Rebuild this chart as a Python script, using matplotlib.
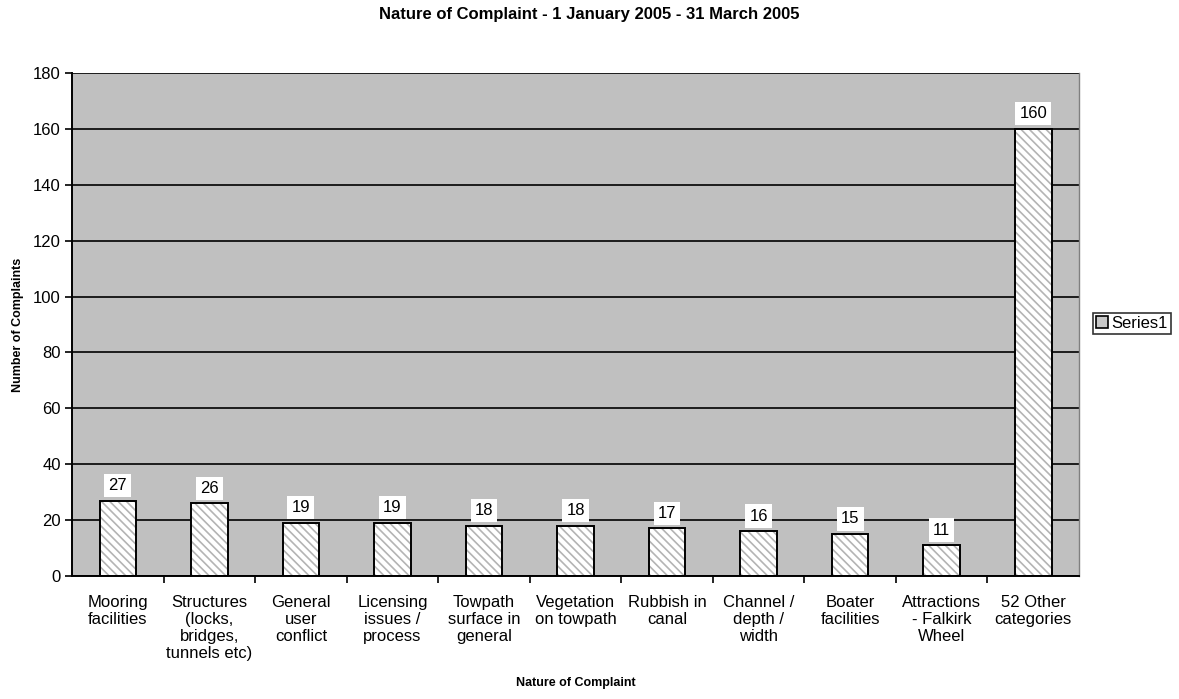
import matplotlib
matplotlib.use("Agg")
import matplotlib.pyplot as plt
from matplotlib.patches import Patch
from matplotlib.ticker import FixedLocator
import numpy as np

plt.rcParams['font.family'] = ['Liberation Sans', 'DejaVu Sans']

categories = ["Mooring\nfacilities", "Structures\n(locks,\nbridges,\ntunnels etc)", "General\nuser\nconflict",
              "Licensing\nissues /\nprocess", "Towpath\nsurface in\ngeneral", "Vegetation\non towpath",
              "Rubbish in\ncanal", "Channel /\ndepth /\nwidth", "Boater\nfacilities",
              "Attractions\n- Falkirk\nWheel", "52 Other\ncategories"]
values = [27, 26, 19, 19, 18, 18, 17, 16, 15, 11, 160]
series_name = "Series1"
title = "Nature of Complaint - 1 January 2005 - 31 March 2005"
xlabel = "Nature of Complaint"
ylabel = "Number of Complaints"

fig = plt.figure(figsize=(11.79, 6.99), dpi=100)
ax = fig.add_axes([0.0611, 0.176, 0.8541, 0.7196])
ax.set_facecolor('#C0C0C0')

x = np.arange(len(values))
ax.set_xlim(-0.5, len(values) - 0.5)
ax.set_ylim(0, 180)
ax.set_yticks(np.arange(0, 181, 20))
ax.yaxis.grid(True, color='black', linewidth=1.2)
ax.set_axisbelow(True)

w = 0.40
plt.rcParams['hatch.linewidth'] = 1.2
ax.bar(x, values, width=w, color='white', edgecolor='#B4B4B4', hatch='\\\\\\\\', linewidth=0, zorder=2)
ax.bar(x, values, width=w, color='none', edgecolor='black', linewidth=1.4, zorder=3)

for xi, v in zip(x, values):
    ax.annotate(str(v), (xi, v), xytext=(0, 5.5), textcoords='offset points', ha='center', va='bottom',
                fontsize=12, bbox=dict(facecolor='white', edgecolor='none', pad=3), zorder=4)

ax.set_xticks(x)
ax.set_xticklabels(categories, fontsize=12, linespacing=1.16, va='top')
ax.tick_params(axis='x', length=0, pad=14)
ax.xaxis.set_minor_locator(FixedLocator(np.arange(0.5, len(values) - 0.5, 1.0)))
ax.tick_params(axis='x', which='minor', length=5, width=1.2, direction='out')
ax.tick_params(axis='y', length=5, width=1.2, direction='out', labelsize=12, pad=3)

for s in ['left', 'bottom']:
    ax.spines[s].set_linewidth(1.4)
    ax.spines[s].set_color('black')
ax.spines['right'].set_color('#808080')
ax.spines['right'].set_linewidth(1.0)
ax.spines['top'].set_visible(False)

ax.set_xlabel(xlabel, fontsize=9, fontweight='bold')
ax.xaxis.set_label_coords(0.5, -0.213)
ax.xaxis.label.set_va('center')
ax.set_ylabel(ylabel, fontsize=9, fontweight='bold')
ax.yaxis.set_label_coords(-0.0535, 0.5)
ax.yaxis.label.set_va('center')
fig.suptitle(title, fontsize=12, fontweight='bold', y=0.979, va='center')

handle = Patch(facecolor='#C8C8C8', edgecolor='black', linewidth=1.2)
leg = fig.legend([handle], [series_name], loc='center left', bbox_to_anchor=(0.927, 0.537),
                 fontsize=12, frameon=True, fancybox=False, handlelength=0.7, handleheight=0.7,
                 handletextpad=0.2, borderpad=0.2, borderaxespad=0)
leg.get_frame().set_edgecolor('black')
leg.get_frame().set_linewidth(1.2)

fig.savefig('out.png', dpi=100)
